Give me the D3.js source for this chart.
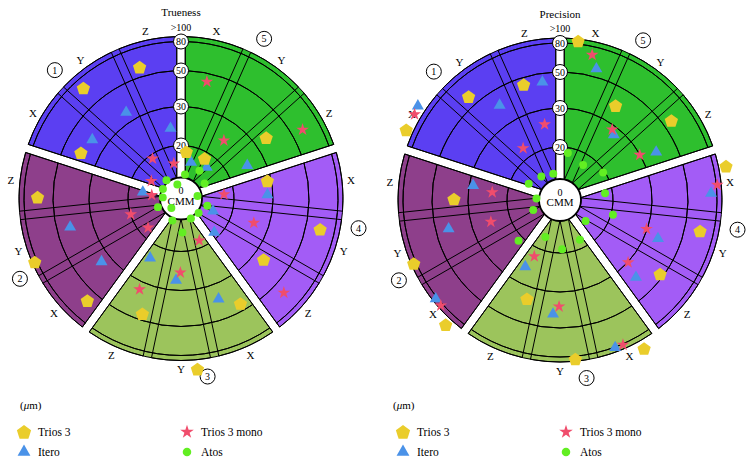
<!DOCTYPE html>
<html>
<head>
<meta charset="utf-8">
<script src="https://cdn.jsdelivr.net/npm/d3@7"></script>
<style>
  body { margin: 0; background: #fff; }
  svg { display: block; }
  svg text { font-family: "Liberation Serif", "DejaVu Serif", serif; }
</style>
</head>
<body>
<svg id="chart" width="755" height="467" font-family="Liberation Serif, DejaVu Serif, serif"></svg>
<script>
// sectors clockwise from 12 o'clock, each split into X, Y, Z
const sectorOrder = ["5", "4", "3", "2", "1"];
const axes = ["X", "Y", "Z"];
const ringTicks = [0, 20, 30, 50, 80, 100];
const ringLabels = ["20", "30", "50", "80"];
const series = ["Trios 3", "Itero", "Trios 3 mono", "Atos"];

// values in um, order: sector 1..5, each X, Y, Z
const truenessTrios3 = [40, 70, 60,   61, 90, 66,   46, 138, 46.5,   29, 65, 36,   17.7, 17.5, 37];
const truenessItero  = [38, 35.6, 24.6,   35.3, 42.5, 14.6,   38.5, 27.4, 23.6,   28.6, 13, 17.9,   14.2, 15.3, 25.4];
const truenessMono   = [13, 18.5, 13.5,   16.6, 19.9, 11.1,   17.3, 25.4, 34.4,   16.3, 26.1, 61.9,   45.3, 24.9, 62.1];
const truenessAtos   = [7.7, 8.8, 5.5,   5.1, 9.3, 6.9,   8.4, 12.8, 8.9,   6.3, 10.3, 8.6,   9.2, 12.6, 10.6];

const precisionTrios3 = [128, 60.3, 46.1,   129, 90, 37.8,   135, 91.6, 36.8,   129.6, 66, 48.1,   91.6, 39.7, 59.1];
const precisionItero  = [133.7, 41.3, 45.1,   87.2, 42.8, 29,   82.4, 42.4, 25.7,   74, 37.4, 39.1,   58.4, 28.1, 38.6];
const precisionMono   = [127, 22.7, 26.2,   88.8, 25, 23.9,   83.6, 38.1, 22.3,   84, 29.8, 30.2,   71.3, 28.9, 29.9];
const precisionAtos   = [13.3, 11.3, 10.2,   21.3, 10.8, 8.9,   16.8, 18.6, 15,   17.2, 20.5, 12.5,   18, 15.8, 19.3];

const charts = [
  { title: "Trueness", cx: 181, cy: 198.5, lx: 0,
    values: { "Trios 3": truenessTrios3, "Itero": truenessItero, "Trios 3 mono": truenessMono, "Atos": truenessAtos } },
  { title: "Precision", cx: 560, cy: 200, lx: 379,
    values: { "Trios 3": precisionTrios3, "Itero": precisionItero, "Trios 3 mono": precisionMono, "Atos": precisionAtos } }
];

const deg = Math.PI / 180;
const innerR = 21;

const radius = d3.scaleLinear().domain(ringTicks).range([0, 53, 92, 128, 157, 162]);
const outerR = radius(100);
const sectorAngle = d3.scaleBand().domain(sectorOrder).range([0, 2 * Math.PI]);
const axisAngle = d3.scaleBand().domain(axes).range([0, sectorAngle.bandwidth()]);
const seriesShift = d3.scalePoint()
  .domain(["Trios 3", "Atos", "Trios 3 mono", "Itero"])
  .range([-5.5 * deg, 3.5 * deg]);
const sectorColor = d3.scaleOrdinal().domain(["1", "2", "3", "4", "5"])
  .range(["#5b3ff2", "#8e3f8b", "#9cc45c", "#a35cf6", "#2ebf2e"]);

const symbolPentagon = {
  draw(context, size) {
    const R = Math.sqrt(size / 2.3776);
    for (let i = 0; i < 5; i++) {
      const a = -Math.PI / 2 + i * 2 * Math.PI / 5;
      const x = R * Math.cos(a), y = R * Math.sin(a) + R * 0.08;
      if (i) context.lineTo(x, y); else context.moveTo(x, y);
    }
    context.closePath();
  }
};
const symbolType = d3.scaleOrdinal().domain(series)
  .range([symbolPentagon, d3.symbolTriangle, d3.symbolStar, d3.symbolCircle]);
const symbolSize = d3.scaleOrdinal().domain(series).range([116, 62, 50, 50]);
const symbolColor = d3.scaleOrdinal().domain(series)
  .range(["#eacd2b", "#4a92e8", "#f04d6c", "#62ee22"]);
const drawOrder = ["Itero", "Trios 3 mono", "Trios 3", "Atos"];

const arc = d3.arc().padRadius(100).padAngle(0.085);

function polar(r, a) {
  return [r * Math.sin(a), -r * Math.cos(a)];
}

const svg = d3.select("#chart");

function drawChart(c) {
  const g = svg.append("g").attr("transform", "translate(" + c.cx + "," + c.cy + ")");

  // sector backgrounds
  g.selectAll(".sector")
    .data(sectorOrder)
    .enter().append("path")
      .attr("class", "sector")
      .attr("d", function(s) {
        return arc({ innerRadius: innerR, outerRadius: outerR,
          startAngle: sectorAngle(s), endAngle: sectorAngle(s) + sectorAngle.bandwidth() });
      })
      .attr("fill", function(s) { return sectorColor(s); })
      .attr("stroke", "#000")
      .attr("stroke-width", 1);

  // X / Y / Z sub-sectors
  const subs = [];
  sectorOrder.forEach(function(s) { axes.forEach(function(ax) { subs.push({ s: s, ax: ax }); }); });
  g.selectAll(".sub")
    .data(subs)
    .enter().append("path")
      .attr("class", "sub")
      .attr("d", function(d) {
        const a0 = sectorAngle(d.s) + axisAngle(d.ax);
        return arc({ innerRadius: innerR, outerRadius: outerR,
          startAngle: a0, endAngle: a0 + axisAngle.bandwidth() });
      })
      .attr("fill", "none")
      .attr("stroke", "#000")
      .attr("stroke-width", 1);

  // rings
  const rings = [];
  sectorOrder.forEach(function(s) { ringTicks.slice(1, 5).forEach(function(t) { rings.push({ s: s, t: t }); }); });
  g.selectAll(".ring")
    .data(rings)
    .enter().append("path")
      .attr("class", "ring")
      .attr("d", function(d) {
        return arc({ innerRadius: radius(d.t), outerRadius: radius(d.t),
          startAngle: sectorAngle(d.s), endAngle: sectorAngle(d.s) + sectorAngle.bandwidth() });
      })
      .attr("fill", "none")
      .attr("stroke", "#000")
      .attr("stroke-width", 1);

  // centre
  g.append("circle").attr("r", innerR).attr("fill", "#fff").attr("stroke", "#000").attr("stroke-width", 1.8);
  g.append("text").attr("y", -8).attr("dy", "0.35em").attr("text-anchor", "middle")
    .attr("font-size", 10).text("0");
  g.append("text").attr("y", 2.5).attr("dy", "0.35em").attr("text-anchor", "middle")
    .attr("font-size", 11).text("CMM");

  // ring value labels
  const tl = g.selectAll(".tick")
    .data(ringLabels)
    .enter().append("g")
      .attr("class", "tick")
      .attr("transform", function(d) { return "translate(0," + (-radius(+d)) + ")"; });
  tl.append("circle").attr("r", 7.5).attr("fill", "#fff").attr("stroke", "#000").attr("stroke-width", 1);
  tl.append("text").attr("dy", "0.35em").attr("text-anchor", "middle").attr("font-size", 10)
    .text(function(d) { return d; });
  g.append("text").attr("y", -171.5).attr("dy", "0.35em").attr("text-anchor", "middle")
    .attr("font-size", 10).text(">100");

  g.append("text").attr("y", -186).attr("dy", "0.35em").attr("text-anchor", "middle")
    .attr("font-size", 11).text(c.title);

  // axis labels
  g.selectAll(".axlab")
    .data(subs)
    .enter().append("text")
      .attr("class", "axlab")
      .attr("transform", function(d) {
        const p = polar(171, sectorAngle(d.s) + axisAngle(d.ax) + axisAngle.bandwidth() / 2);
        return "translate(" + p[0] + "," + p[1] + ")";
      })
      .attr("dy", "0.35em").attr("text-anchor", "middle").attr("font-size", 11)
      .text(function(d) { return d.ax; });

  // circled sector numbers
  const nl = g.selectAll(".num")
    .data(sectorOrder)
    .enter().append("g")
      .attr("class", "num")
      .attr("transform", function(s) {
        const p = polar(180, sectorAngle(s) + 27.5 * deg);
        return "translate(" + p[0] + "," + p[1] + ")";
      });
  nl.append("circle").attr("r", 7.5).attr("fill", "#fff").attr("stroke", "#000").attr("stroke-width", 1);
  nl.append("text").attr("dy", "0.35em").attr("text-anchor", "middle").attr("font-size", 10)
    .text(function(s) { return s; });

  // markers
  drawOrder.forEach(function(name) {
    const pts = c.values[name].map(function(v, i) {
      return { name: name, v: v, s: String(Math.floor(i / 3) + 1), ax: axes[i % 3] };
    });
    g.selectAll(".m-" + series.indexOf(name))
      .data(pts)
      .enter().append("path")
        .attr("class", "m-" + series.indexOf(name))
        .attr("d", d3.symbol().type(symbolType(name)).size(symbolSize(name)))
        .attr("transform", function(d) {
          const a = sectorAngle(d.s) + axisAngle(d.ax) + axisAngle.bandwidth() / 2 + seriesShift(d.name);
          const p = polar(radius(d.v), a);
          return "translate(" + p[0] + "," + p[1] + ")";
        })
        .attr("fill", symbolColor(name));
  });

  // legend
  const lg = svg.append("g").attr("transform", "translate(" + c.lx + ",0)");
  const unit = lg.append("text").attr("x", c.lx ? 14 : 20).attr("y", 405).attr("dy", "0.35em").attr("font-size", 11);
  unit.append("tspan").text("(");
  unit.append("tspan").attr("font-style", "italic").text("\u03bc");
  unit.append("tspan").text("m)");

  const items = [
    { name: "Trios 3", col: 0, row: 0 },
    { name: "Itero", col: 0, row: 1 },
    { name: "Trios 3 mono", col: 1, row: 0 },
    { name: "Atos", col: 1, row: 1 }
  ];
  const li = lg.selectAll(".li")
    .data(items)
    .enter().append("g")
      .attr("class", "li")
      .attr("transform", function(d) { return "translate(" + (24 + d.col * 163) + "," + (432 + d.row * 20) + ")"; });
  li.append("path")
    .attr("d", function(d) { return d3.symbol().type(symbolType(d.name)).size(symbolSize(d.name) * 1.15)(); })
    .attr("fill", function(d) { return symbolColor(d.name); });
  li.append("text").attr("x", 14).attr("dy", "0.35em").attr("font-size", 11.5)
    .text(function(d) { return d.name; });
}

charts.forEach(drawChart);
</script>
</body>
</html>
